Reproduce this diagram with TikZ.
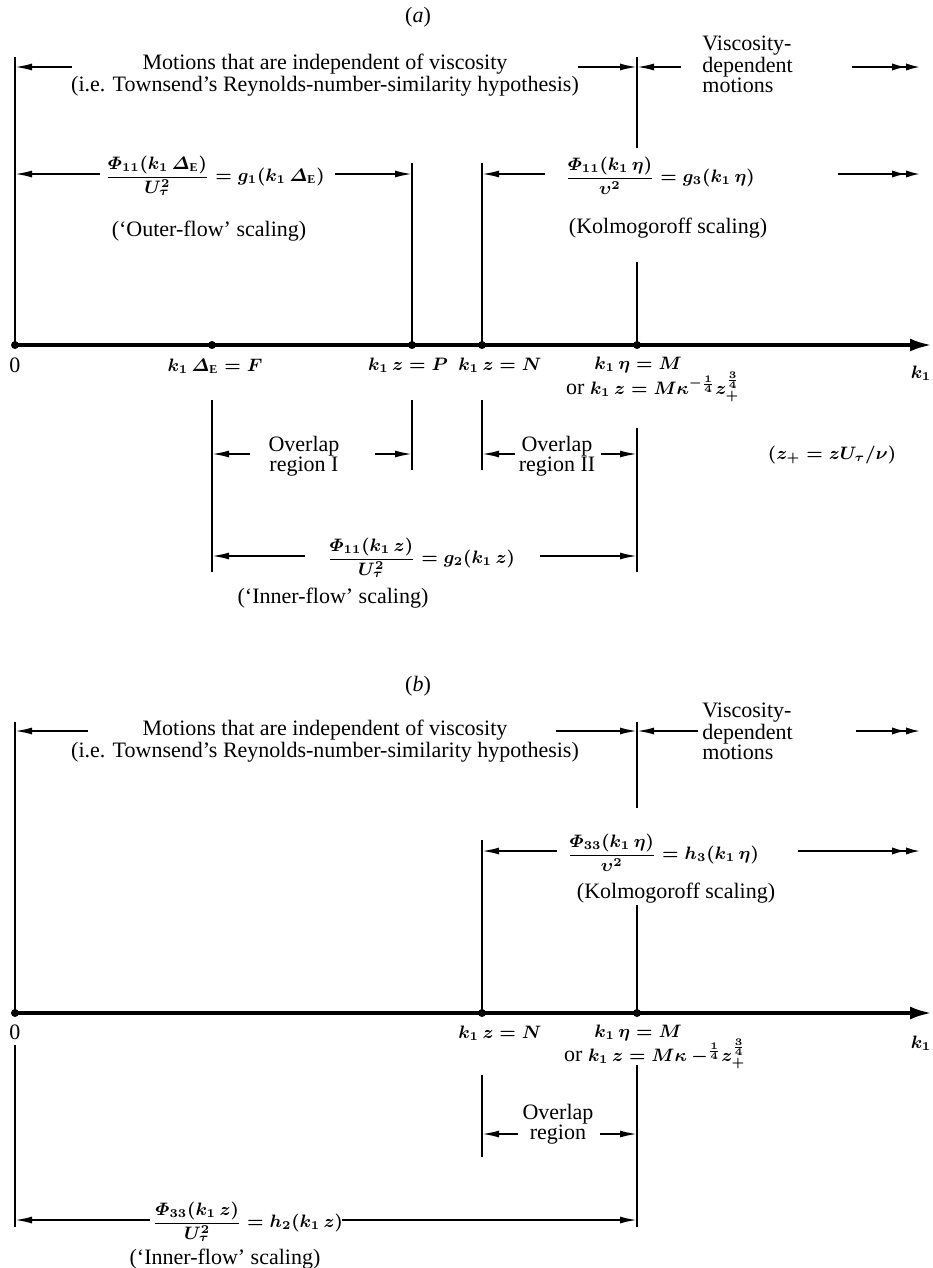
\documentclass[tikz,border=0pt]{standalone}
\usepackage{amsmath}
\usepackage{fontspec}
\setmainfont{Liberation Serif}
\usetikzlibrary{arrows.meta}
\newcommand\mymf{\fontsize{9}{10}\selectfont\boldmath}
\begin{document}
\begin{tikzpicture}[x=0.5pt,y=-0.5pt,
  ln/.style={line width=0.9pt},
  arr/.style={ln,-{Latex[length=8.5pt,width=3.5pt]}},
  darr/.style={ln,-{Latex[length=7pt,width=3.6pt]Latex[length=7pt,width=3.6pt]}},
  axisline/.style={line width=1.9pt,-{Latex[length=11pt,width=6.5pt]}},
  dotnode/.style={circle,fill,inner sep=0pt,minimum size=4pt},
  lbl/.style={font=\fontsize{11}{10}\selectfont,inner sep=0pt,align=center},
  mth/.style={font=\mymf,inner sep=0pt,align=center},
  lbll/.style={lbl,align=left,anchor=west}]
\useasboundingbox (0,0) rectangle (932,1268);

% ================= (a) =================
\node[lbl] (ta) at (418,17) {(\textit{a})};
\node[lbl,font=\fontsize{11}{8.6}\selectfont] (motA) at (325,75) {Motions that are independent of viscosity\\(i.e. Townsend’s Reynolds-number-similarity hypothesis)};
\node[lbll] (visA) at (702,64) {Viscosity-\\dependent\\motions};

\coordinate (Oa) at (15,345);
\coordinate (Fa) at (212,345);
\coordinate (Pa) at (412,345);
\coordinate (Na) at (482,345);
\coordinate (Ma) at (637,345);
\coordinate (Ea) at (932,345);

% verticals above axis
\draw[ln] (15,57) -- (Oa);
\draw[ln] (412,163) -- (Pa);
\draw[ln] (482,163) -- (Na);
\draw[ln] (637,57) -- (637,148);
\draw[ln] (637,262) -- (Ma);

% top arrows
\draw[arr] (72,67) -- (15,67);
\draw[arr] (578,67) -- (637,67);
\draw[arr] (681,67) -- (637,67);
\draw[darr] (852,67) -- (920,67);

% second row
\node[mth] (g1) at (215,176) {$\dfrac{\varPhi_{11}(k_1\,\varDelta_{\mathrm{E}})}{U_\tau^2} = g_1(k_1\,\varDelta_{\mathrm{E}})$};
\draw[arr] (100,174) -- (15,174);
\draw[arr] (335,174) -- (412,174);
\node[mth] (g3) at (660,176) {$\dfrac{\varPhi_{11}(k_1\,\eta)}{\upsilon^2} = g_3(k_1\,\eta)$};
\draw[arr] (545,174) -- (482,174);
\draw[darr] (838,174) -- (920,174);

\node[lbl] (osc) at (209,231) {(‘Outer-flow’ scaling)};
\node[lbl] (ksc) at (668,228) {(Kolmogoroff scaling)};

% axis
\draw[axisline] (Oa) -- (Ea);
\foreach \p in {Oa,Fa,Pa,Na,Ma} \node[dotnode] at (\p) {};

\node[lbl] (l0a) at (15,365) {0};
\node[mth] (lFa) at (215,366) {$k_1\,\varDelta_{\mathrm{E}} = F$};
\node[mth] (lPa) at (408,365) {$k_1\,z = P$};
\node[mth] (lNa) at (500,365) {$k_1\,z = N$};
\node[mth] (lMa) at (638,365) {$k_1\,\eta = M$};
\node[lbl] (lMa2) at (653,387) {or {\mymf$k_1\,z = M\kappa^{-\frac14}z_+^{\frac34}$}};
\node[mth] (lka) at (921,373) {$k_1$};

% third row: overlaps
\draw[ln] (212,400) -- (212,572);
\draw[ln] (412,400) -- (412,470);
\draw[ln] (482,400) -- (482,470);
\draw[ln] (637,428) -- (637,572);
\node[lbl] (ov1) at (304,456) {Overlap\\region I};
\draw[arr] (250,454) -- (212,454);
\draw[arr] (375,454) -- (412,454);
\node[lbl] (ov2) at (557,456) {Overlap\\region II};
\draw[arr] (515,454) -- (482,454);
\draw[arr] (601,454) -- (637,454);
\node[mth] (zp) at (832,455) {$(z_+ = zU_\tau/\nu)$};

\node[mth] (g2) at (421,558) {$\dfrac{\varPhi_{11}(k_1\,z)}{U_\tau^2} = g_2(k_1\,z)$};
\draw[arr] (305,556) -- (212,556);
\draw[arr] (540,556) -- (637,556);
\node[lbl] (isc) at (333,598) {(‘Inner-flow’ scaling)};

% ================= (b) =================
\node[lbl] (tb) at (418,686) {(\textit{b})};
\node[lbl,font=\fontsize{11}{8.6}\selectfont] (motB) at (325,741) {Motions that are independent of viscosity\\(i.e. Townsend’s Reynolds-number-similarity hypothesis)};
\node[lbll] (visB) at (702,731) {Viscosity-\\dependent\\motions};

\coordinate (Ob) at (15,1013);
\coordinate (Nb) at (482,1013);
\coordinate (Mb) at (637,1013);
\coordinate (Eb) at (932,1013);

\draw[ln] (15,722) -- (Ob);
\draw[ln] (637,722) -- (637,808);
\draw[ln] (482,840) -- (Nb);
\draw[ln] (637,905) -- (Mb);

\draw[arr] (88,731) -- (15,731);
\draw[arr] (556,731) -- (637,731);
\draw[arr] (698,731) -- (637,731);
\draw[darr] (856,731) -- (920,731);

\node[mth] (h3) at (663,853) {$\dfrac{\varPhi_{33}(k_1\,\eta)}{\upsilon^2} = h_3(k_1\,\eta)$};
\draw[arr] (557,851) -- (482,851);
\draw[darr] (798,851) -- (920,851);
\node[lbl] (kscb) at (676,893) {(Kolmogoroff scaling)};

\draw[axisline] (Ob) -- (Eb);
\foreach \p in {Ob,Nb,Mb} \node[dotnode] at (\p) {};

\node[lbl] (l0b) at (15,1032) {0};
\node[mth] (lNb) at (500,1033) {$k_1\,z = N$};
\node[mth] (lMb) at (638,1033) {$k_1\,\eta = M$};
\node[lbl] (lMb2) at (655,1054) {or {\mymf$k_1\,z = M\kappa\ {-}^{\frac14}z_+^{\frac34}$}};
\node[mth] (lkb) at (921,1043) {$k_1$};

\draw[ln] (15,1045) -- (15,1227);
\draw[ln] (482,1075) -- (482,1157);
\draw[ln] (637,1065) -- (637,1227);
\node[lbl] (ovb) at (558,1124) {Overlap\\region};
\draw[arr] (518,1134) -- (482,1134);
\draw[arr] (600,1134) -- (637,1134);

\node[mth] (h2) at (248,1222) {$\dfrac{\varPhi_{33}(k_1\,z)}{U_\tau^2} = h_2(k_1\,z)$};
\draw[arr] (150,1220) -- (15,1220);
\draw[arr] (342,1220) -- (637,1220);
\node[lbl] (iscb) at (225,1259) {(‘Inner-flow’ scaling)};
\end{tikzpicture}
\end{document}
